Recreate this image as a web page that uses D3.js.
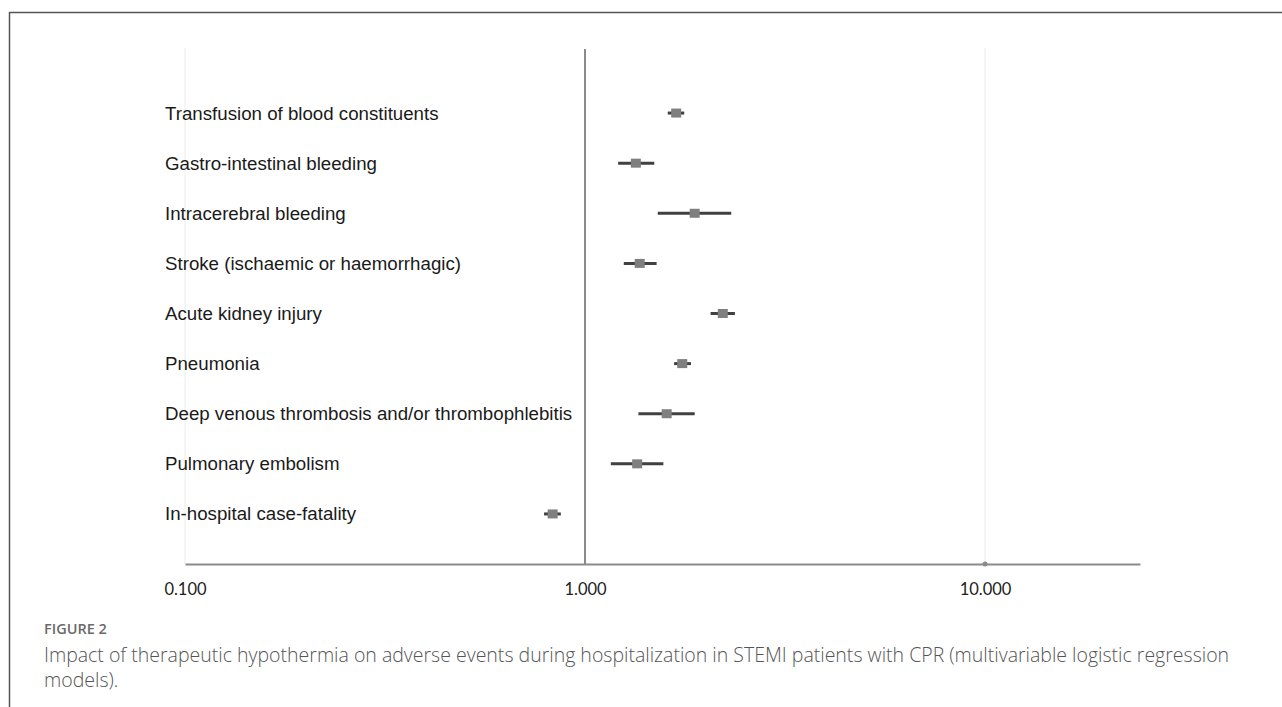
<!DOCTYPE html>
<html><head><meta charset="utf-8">
<script src="https://cdn.jsdelivr.net/npm/d3@7"></script>
<style>
body{margin:0;background:#fff;}
svg{display:block;}
</style></head>
<body>
<svg id="chart" width="1282" height="707"></svg>
<script>
const categories = [
  "Transfusion of blood constituents",
  "Gastro-intestinal bleeding",
  "Intracerebral bleeding",
  "Stroke (ischaemic or haemorrhagic)",
  "Acute kidney injury",
  "Pneumonia",
  "Deep venous thrombosis and/or thrombophlebitis",
  "Pulmonary embolism",
  "In-hospital case-fatality"
];
const oddsRatio = [1.69, 1.34, 1.88, 1.37, 2.21, 1.75, 1.60, 1.35, 0.83];
const ciLower   = [1.61, 1.21, 1.52, 1.25, 2.06, 1.67, 1.36, 1.16, 0.79];
const ciUpper   = [1.77, 1.49, 2.32, 1.51, 2.37, 1.84, 1.88, 1.57, 0.87];
const tickValues = [0.1, 1, 10];
const tickLabels = ["0.100", "1.000", "10.000"];

const svg = d3.select("#chart");

// frame (top + left border)
svg.append("line").attr("x1",9.5).attr("x2",1282).attr("y1",12.5).attr("y2",12.5)
  .attr("stroke","#555").attr("stroke-width",1.5);
svg.append("line").attr("x1",9.5).attr("x2",9.5).attr("y1",12).attr("y2",707)
  .attr("stroke","#555").attr("stroke-width",1.5);

const x = d3.scaleLog().domain([0.1, 24.4]).range([185, 1140]);
const y = d3.scaleBand().domain(categories).range([88, 539]);
const yc = d => y(d) + y.bandwidth()/2;
const axisY = 564;
const topY = 48;

// light gridlines
svg.append("g").selectAll("line").data([0.1, 10]).join("line")
  .attr("x1", d=>x(d)).attr("x2", d=>x(d)).attr("y1", topY).attr("y2", axisY)
  .attr("stroke","#ececec").attr("stroke-width",1);

// reference line at 1
svg.append("line").attr("x1",x(1)).attr("x2",x(1)).attr("y1",topY+1).attr("y2",axisY)
  .attr("stroke","#8a8a8a").attr("stroke-width",2);

// x axis
const axis = d3.axisBottom(x).tickValues(tickValues)
  .tickFormat((d,i)=>tickLabels[i]).tickSize(0).tickPadding(19);
const gAx = svg.append("g").attr("transform",`translate(0,${axisY})`).call(axis);
gAx.select(".domain").attr("stroke","#8a8a8a").attr("stroke-width",2);
gAx.selectAll("text").attr("font-family","Lato, 'Open Sans', sans-serif")
  .attr("font-size",16.5).attr("fill","#222");
// small dot at 10
gAx.append("circle").attr("cx",x(10)).attr("cy",0).attr("r",2.5).attr("fill","#8a8a8a");

// category labels
svg.append("g").selectAll("text").data(categories).join("text")
  .attr("x",165).attr("y",d=>yc(d)).attr("dy","0.35em")
  .attr("font-family","'Liberation Sans', Arial, sans-serif").attr("font-size",18.7)
  .attr("fill","#1a1a1a").text(d=>d);

// CI lines
svg.append("g").selectAll("line").data(categories).join("line")
  .attr("x1",(d,i)=>x(ciLower[i])).attr("x2",(d,i)=>x(ciUpper[i]))
  .attr("y1",d=>yc(d)).attr("y2",d=>yc(d))
  .attr("stroke","#404040").attr("stroke-width",3);

// point markers
const ms = 10;
svg.append("g").selectAll("rect").data(categories).join("rect")
  .attr("x",(d,i)=>x(oddsRatio[i])-ms/2).attr("y",d=>yc(d)-4.5)
  .attr("width",ms).attr("height",9).attr("fill","#7f7f7f");

// caption
svg.append("text").attr("x",44).attr("y",634)
  .attr("font-family","'Open Sans', sans-serif").attr("font-size",14.5).attr("font-weight",600)
  .attr("fill","#6a6a6a").text("FIGURE 2");
svg.append("text").attr("x",44).attr("y",662)
  .attr("font-family","'Open Sans', sans-serif").attr("font-size",19.5).attr("font-weight",300)
  .attr("fill","#555").text("Impact of therapeutic hypothermia on adverse events during hospitalization in STEMI patients with CPR (multivariable logistic regression");
svg.append("text").attr("x",44).attr("y",687)
  .attr("font-family","'Open Sans', sans-serif").attr("font-size",19.5).attr("font-weight",300)
  .attr("fill","#555").text("models).");
</script>
</body></html>
